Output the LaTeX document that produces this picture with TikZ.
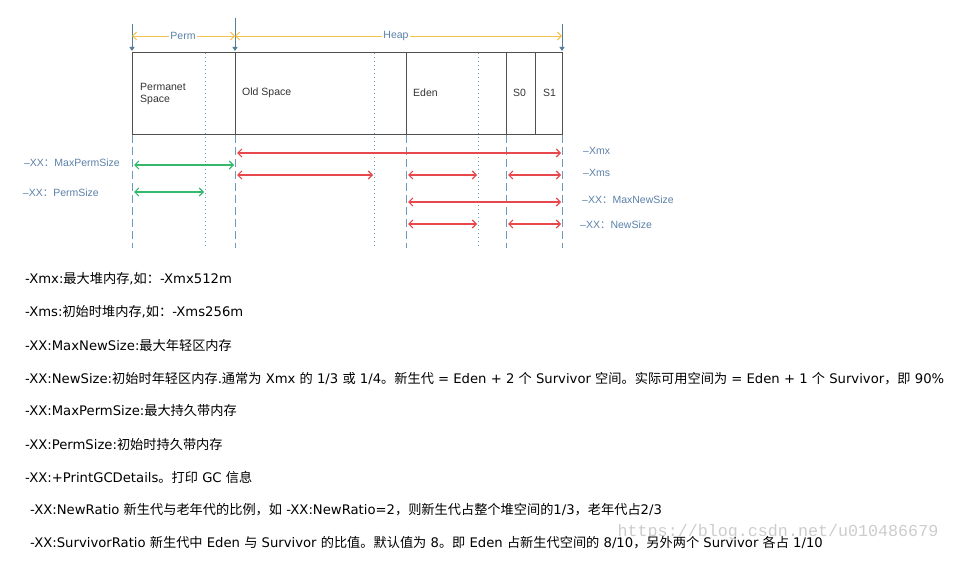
\documentclass[tikz,border=0pt]{standalone}
\usepackage{fontspec}
\setmainfont{DejaVu Sans}
\newfontfamily\cjk{Noto Sans CJK SC}
\newfontfamily\lab{Liberation Sans}
\newfontfamily\wm{Liberation Mono}
\usetikzlibrary{arrows.meta}
\definecolor{labblue}{HTML}{5B80A8}
\definecolor{vblue}{HTML}{6A9BBF}
\definecolor{mred}{HTML}{E8474C}
\definecolor{mgreen}{HTML}{33B86C}
\definecolor{myellow}{HTML}{F2C14E}
\definecolor{boxgray}{HTML}{505050}
\tikzset{
  lbl/.style={font=\lab\fontsize{10.5}{12}\selectfont, text=labblue, inner sep=1pt},
  boxlbl/.style={font=\lab\fontsize{10.5}{12.5}\selectfont, text=black!80, anchor=west, align=left, inner sep=0pt},
  txt/.style={font=\fontsize{13.2}{15}\selectfont, text=black, anchor=west, inner sep=0pt},
  redarr/.style={draw=mred, line width=1.1pt, {Straight Barb[length=4pt,width=8pt]}-{Straight Barb[length=4pt,width=8pt]}, shorten <=2pt, shorten >=1pt},
  greenarr/.style={draw=mgreen, line width=1.1pt, {Straight Barb[length=4pt,width=8pt]}-{Straight Barb[length=4pt,width=8pt]}, shorten <=2pt, shorten >=1pt},
  yelarr/.style={draw=myellow, line width=0.9pt, {Straight Barb[length=4pt,width=8pt]}-{Straight Barb[length=4pt,width=8pt]}},
  dashv/.style={draw=vblue, line width=0.9pt, dash pattern=on 8pt off 4pt},
  dotv/.style={draw=vblue, line width=0.8pt, dash pattern=on 1pt off 3pt},
  markv/.style={draw=vblue!80!black, line width=0.9pt, -{Triangle[length=4pt,width=5pt]}},
  divider/.style={draw=boxgray, line width=1pt},
}
\begin{document}
\begin{tikzpicture}[x=1pt,y=-1pt]
\useasboundingbox (0,0) rectangle (971,564);
% columns
\coordinate (cA) at (132,0);
\coordinate (cB) at (205,0);
\coordinate (cC) at (235,0);
\coordinate (cD) at (374,0);
\coordinate (cE) at (406,0);
\coordinate (cF) at (478,0);
\coordinate (cG) at (506,0);
\coordinate (cH) at (535,0);
\coordinate (cI) at (562,0);
% rows
\coordinate (rTop) at (0,53);
\coordinate (rBot) at (0,135);
\coordinate (rEnd) at (0,248);
\coordinate (rY) at (0,36);
\coordinate (rM1) at (0,24);
\coordinate (rM2) at (0,18);
\coordinate (rMk) at (0,51);
\coordinate (rXmx) at (0,153);
\coordinate (rMaxP) at (0,165);
\coordinate (rXms) at (0,175);
\coordinate (rPerm) at (0,192);
\coordinate (rMaxN) at (0,202);
\coordinate (rNew) at (0,224);

% dotted lines
\foreach \c in {cB,cD,cF} \draw[dotv] (\c|-rTop) -- (\c|-rEnd);
% dashed lines below box
\foreach \c in {cA,cC,cE,cG,cI} \draw[dashv] (\c|-rBot) -- (\c|-rEnd);

% box
\draw[divider] (cA|-rTop) rectangle (cI|-rBot);
\foreach \c in {cC,cE,cG,cH} \draw[divider] (\c|-rTop) -- (\c|-rBot);

% box labels
\node[boxlbl] (tPerm) at (140,94) {Permanet\\Space};
\node[boxlbl] (tOld) at (242,93) {Old Space};
\node[boxlbl] (tEden) at (413,93) {Eden};
\node[boxlbl] (tS0) at (513,93) {S0};
\node[boxlbl] (tS1) at (543,93) {S1};

% top markers
\draw[markv] (cA|-rM1) -- (cA|-rMk);
\draw[markv] (cC|-rM2) -- (cC|-rMk);
\draw[markv] (cI|-rM1) -- (cI|-rMk);

% yellow arrows
\draw[yelarr] (cA|-rY) -- (cC|-rY);
\draw[yelarr] (cC|-rY) -- (cI|-rY);
\node[lbl, fill=white] (lPerm) at (183,36) {Perm};
\node[lbl, fill=white] (lHeap) at (396,36) {Heap};

% red arrows
\draw[redarr] (cC|-rXmx) -- (cI|-rXmx);
\draw[redarr] (cC|-rXms) -- (cD|-rXms);
\draw[redarr] (cE|-rXms) -- (cF|-rXms);
\draw[redarr] (cG|-rXms) -- (cI|-rXms);
\draw[redarr] (cE|-rMaxN) -- (cI|-rMaxN);
\draw[redarr] (cE|-rNew) -- (cF|-rNew);
\draw[redarr] (cG|-rNew) -- (cI|-rNew);
% green arrows
\draw[greenarr] (cA|-rMaxP) -- (cC|-rMaxP);
\draw[greenarr] (cA|-rPerm) -- (cB|-rPerm);

% side labels
\node[lbl, anchor=east] (lMaxPerm) at (121,163) {–XX{\cjk ：}MaxPermSize};
\node[lbl, anchor=east] (lPermS) at (100,193) {–XX{\cjk ：}PermSize};
\node[lbl, anchor=west] (lXmx) at (582,151) {–Xmx};
\node[lbl, anchor=west] (lXms) at (582,173) {–Xms};
\node[lbl, anchor=west] (lMaxN) at (581,200) {–XX{\cjk ：}MaxNewSize};
\node[lbl, anchor=west] (lNew) at (579,225) {–XX{\cjk ：}NewSize};

% watermark
\node[font=\wm\fontsize{16.7}{18}\selectfont, text=black!20, inner sep=0pt] (wm) at (778,532) {https://blog.csdn.net/u010486679};

% text lines
\node[txt] (t1) at (25,279) {-Xmx:{\cjk 最大堆内存},{\cjk 如：}-Xmx512m};
\node[txt] (t2) at (25,312) {-Xms:{\cjk 初始时堆内存},{\cjk 如：}-Xms256m};
\node[txt] (t3) at (25,345) {-XX:MaxNewSize:{\cjk 最大年轻区内存}};
\node[txt] (t4) at (25,379) {-XX:NewSize:{\cjk 初始时年轻区内存}.{\cjk 通常为} Xmx {\cjk 的} 1/3 {\cjk 或} 1/4{\cjk 。新生代} = Eden + 2 {\cjk 个} Survivor {\cjk 空间。实际可用空间为} = Eden + 1 {\cjk 个} Survivor{\cjk ，即} 90\%};
\node[txt] (t5) at (25,411) {-XX:MaxPermSize:{\cjk 最大持久带内存}};
\node[txt] (t6) at (25,444) {-XX:PermSize:{\cjk 初始时持久带内存}};
\node[txt] (t7) at (25,477) {-XX:+PrintGCDetails{\cjk 。打印} GC {\cjk 信息}};
\node[txt] (t8) at (30,510) {-XX:NewRatio {\cjk 新生代与老年代的比例，如} -XX:NewRatio=2{\cjk ，则新生代占整个堆空间的}1/3{\cjk ，老年代占}2/3};
\node[txt] (t9) at (30,543) {-XX:SurvivorRatio {\cjk 新生代中} Eden {\cjk 与} Survivor {\cjk 的比值。默认值为} 8{\cjk 。即} Eden {\cjk 占新生代空间的} 8/10{\cjk ，另外两个} Survivor {\cjk 各占} 1/10};
\end{tikzpicture}
\end{document}
